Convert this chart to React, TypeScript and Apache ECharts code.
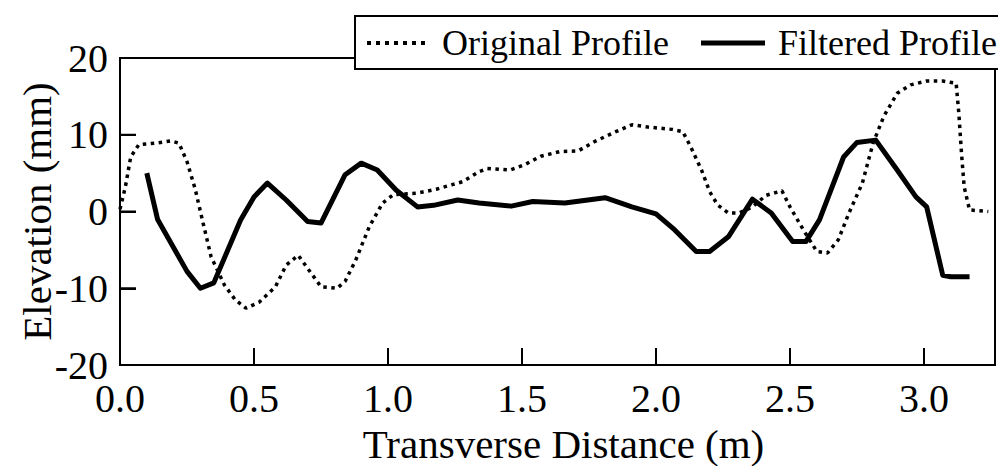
import React, { useEffect, useRef } from "react";
import * as echarts from "echarts";

const seriesNames = ["Original Profile", "Filtered Profile"];
const xTitle = "Transverse Distance (m)";
const yTitle = "Elevation (mm)";

const originalProfile: [number, number][] = [
  [0, 0.3], [0.02, 3.2], [0.04, 7.1], [0.07, 8.7], [0.13, 8.9], [0.19, 9.2], [0.22, 8.9],
  [0.25, 6.5], [0.28, 3.0], [0.31, -1.5], [0.34, -5.9], [0.39, -9.6], [0.43, -11.5],
  [0.47, -12.6], [0.52, -11.8], [0.58, -9.8], [0.62, -7.0], [0.665, -5.7], [0.7, -7.4],
  [0.75, -9.8], [0.81, -10.0], [0.84, -9.1], [0.88, -6.3], [0.93, -2.0], [0.98, 1.1],
  [1.02, 2.2], [1.11, 2.4], [1.18, 2.9], [1.28, 3.9], [1.34, 5.2], [1.37, 5.6], [1.455, 5.4],
  [1.51, 6.1], [1.57, 7.2], [1.64, 7.8], [1.71, 7.9], [1.77, 9.1], [1.85, 10.4], [1.91, 11.3],
  [1.97, 11.0], [2.06, 10.7], [2.1, 10.4], [2.13, 8.4], [2.17, 5.4], [2.2, 2.6], [2.23, 0.85],
  [2.27, -0.2], [2.31, -0.2], [2.36, 0.6], [2.41, 2.1], [2.47, 2.7], [2.5, 0.6], [2.55, -2.4],
  [2.6, -5.2], [2.64, -5.4], [2.68, -3.7], [2.72, -0.2], [2.77, 3.7], [2.81, 8.9], [2.85, 12.4],
  [2.9, 15.4], [2.95, 16.5], [3.01, 17.0], [3.07, 17.0], [3.12, 16.7], [3.13, 12.8], [3.14, 7.6],
  [3.15, 3.2], [3.17, 0.2], [3.24, 0.0],
];

const filteredProfile: [number, number][] = [
  [0.1, 5.0], [0.14, -1.0], [0.25, -7.8], [0.3, -10.0], [0.35, -9.3], [0.45, -1.1], [0.5, 1.9],
  [0.55, 3.7], [0.62, 1.5], [0.7, -1.3], [0.75, -1.5], [0.84, 4.8], [0.9, 6.3], [0.96, 5.4],
  [1.03, 2.8], [1.11, 0.6], [1.17, 0.8], [1.26, 1.5], [1.34, 1.1], [1.46, 0.7], [1.54, 1.3],
  [1.66, 1.1], [1.81, 1.8], [1.91, 0.6], [2.0, -0.3], [2.07, -2.4], [2.15, -5.2], [2.2, -5.2],
  [2.27, -3.3], [2.36, 1.6], [2.43, -0.2], [2.51, -3.9], [2.56, -3.9], [2.61, -1.1], [2.7, 7.1],
  [2.75, 9.0], [2.82, 9.3], [2.9, 5.4], [2.97, 1.9], [3.01, 0.6], [3.07, -8.3], [3.1, -8.5],
  [3.17, -8.5],
];

const xMin = 0;
const xMax = 3.265;
const xInterval = 0.5;
const yMin = -20;
const yMax = 20;
const yInterval = 10;

// tick marks drawn inside the frame (the ones on the frame edges coincide with the border)
const xTickValues = [0.5, 1.0, 1.5, 2.0, 2.5, 3.0];
const yTickValues = [-10, 0, 10];

const FONT = "Liberation Serif";
const X_TICK_LEN = 17;
const Y_TICK_LEN = 16;

const DOTTED_ICON =
  "path://M0,0h4v4h-4zM9,0h4v4h-4zM18,0h4v4h-4zM27,0h4v4h-4zM36,0h4v4h-4zM45,0h4v4h-4zM54,0h4v4h-4z";

const legendBox = {
  id: "legendBox",
  type: "rect",
  z: 3,
  shape: { x: 355, y: 16, width: 700, height: 53 },
  style: { fill: "#fff", stroke: "#000", lineWidth: 2 },
};

export default function App() {
  const ref = useRef<HTMLDivElement>(null);
  useEffect(() => {
    if (!ref.current) return;
    const chart = echarts.init(ref.current, undefined, { renderer: "svg" });
    chart.setOption({
      animation: false,
      backgroundColor: "#fff",
      textStyle: { fontFamily: FONT, color: "#000" },
      grid: {
        left: 120,
        right: 3,
        top: 58,
        bottom: 101,
        containLabel: false,
        outerBoundsMode: "none",
        show: true,
        borderColor: "#000",
        borderWidth: 2,
        backgroundColor: "transparent",
      },
      graphic: [legendBox],
      legend: [
        {
          data: [{ name: seriesNames[0], icon: DOTTED_ICON }],
          left: 367,
          top: 25,
          z: 5,
          padding: 0,
          itemWidth: 60,
          itemHeight: 4,
          textStyle: { fontFamily: FONT, fontSize: 36, color: "#000", padding: [0, 0, 0, 11] },
        },
        {
          data: [{ name: seriesNames[1], icon: "rect" }],
          left: 701,
          top: 25,
          z: 5,
          padding: 0,
          itemWidth: 64,
          itemHeight: 5,
          textStyle: { fontFamily: FONT, fontSize: 36, color: "#000", padding: [0, 0, 0, 8] },
        },
      ],
      xAxis: {
        type: "value",
        position: "bottom",
        min: xMin,
        max: xMax,
        interval: xInterval,
        name: xTitle,
        nameLocation: "middle",
        nameGap: 58,
        nameMoveOverlap: false,
        nameTextStyle: { fontFamily: FONT, fontSize: 41, color: "#000", padding: [0, 0, 0, 12] },
        axisLine: { show: true, onZero: false, lineStyle: { color: "#000", width: 2 } },
        axisTick: { show: true, inside: true, length: X_TICK_LEN, lineStyle: { color: "#000", width: 2 } },
        axisLabel: {
          show: true,
          margin: 13,
          fontFamily: FONT,
          fontSize: 40,
          color: "#000",
          showMaxLabel: false,
          formatter: (v: number) => v.toFixed(1),
        },
        splitLine: { show: false },
      },
      yAxis: {
        type: "value",
        position: "left",
        min: yMin,
        max: yMax,
        interval: yInterval,
        name: yTitle,
        nameLocation: "middle",
        nameGap: 63,
        nameMoveOverlap: false,
        nameTextStyle: { fontFamily: FONT, fontSize: 41, color: "#000" },
        axisLine: { show: true, onZero: false, lineStyle: { color: "#000", width: 2 } },
        axisTick: { show: true, inside: true, length: Y_TICK_LEN, lineStyle: { color: "#000", width: 2 } },
        axisLabel: { show: true, margin: 12, fontFamily: FONT, fontSize: 40, color: "#000" },
        splitLine: { show: false },
      },
      series: [
        {
          name: seriesNames[0],
          type: "line",
          data: originalProfile,
          symbol: "none",
          z: 2,
          lineStyle: { color: "#000", width: 3.5, type: [3.5, 4.5], cap: "butt" },
          itemStyle: { color: "#000" },
        },
        {
          name: seriesNames[1],
          type: "line",
          data: filteredProfile,
          symbol: "none",
          z: 2,
          lineStyle: { color: "#000", width: 5, type: "solid", join: "round" },
          itemStyle: { color: "#000" },
        },
      ],
    });

    // inside tick marks, placed through the chart's own scales
    const tickLines: any[] = [];
    xTickValues.forEach((v, i) => {
      const p = chart.convertToPixel({ gridIndex: 0 }, [v, yMin]) as number[];
      if (p && isFinite(p[0]) && isFinite(p[1])) {
        tickLines.push({
          id: "xt" + i,
          type: "line",
          z: 10,
          silent: true,
          shape: { x1: p[0], y1: p[1], x2: p[0], y2: p[1] - X_TICK_LEN },
          style: { stroke: "#000", lineWidth: 2 },
        });
      }
    });
    yTickValues.forEach((v, i) => {
      const p = chart.convertToPixel({ gridIndex: 0 }, [xMin, v]) as number[];
      if (p && isFinite(p[0]) && isFinite(p[1])) {
        tickLines.push({
          id: "yt" + i,
          type: "line",
          z: 10,
          silent: true,
          shape: { x1: p[0], y1: p[1], x2: p[0] + Y_TICK_LEN, y2: p[1] },
          style: { stroke: "#000", lineWidth: 2 },
        });
      }
    });
    chart.setOption({ graphic: [legendBox, ...tickLines] });

    return () => chart.dispose();
  }, []);
  return (
    <div
      ref={ref}
      style={{ position: "fixed", left: 0, top: 0, width: 998, height: 466 }}
    />
  );
}
